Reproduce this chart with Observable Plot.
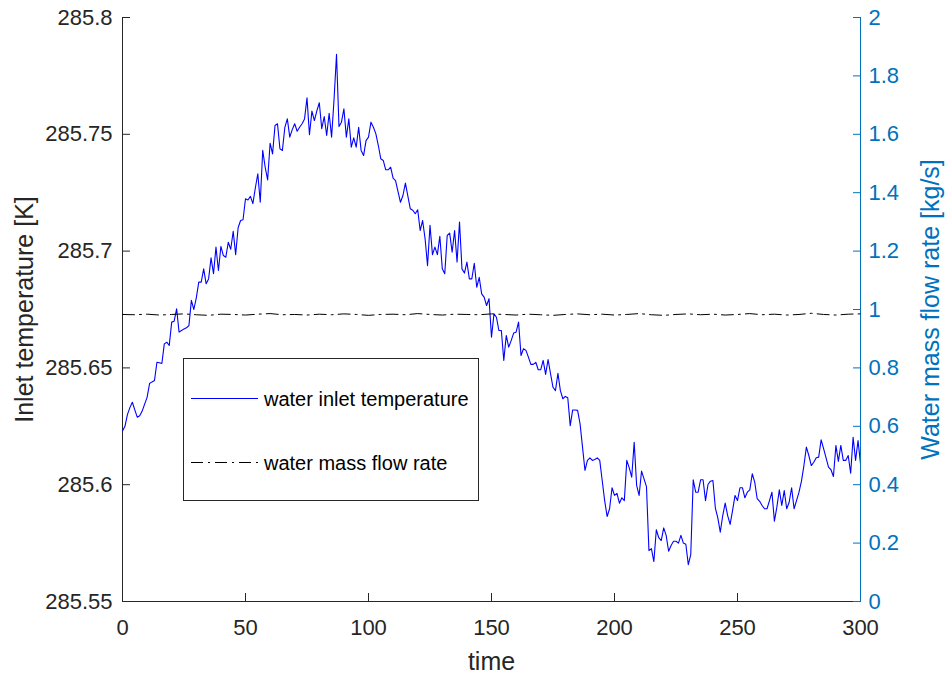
<!DOCTYPE html>
<html>
<head>
<meta charset="utf-8">
<script src="https://cdn.jsdelivr.net/npm/d3@7"></script>
<script src="https://cdn.jsdelivr.net/npm/@observablehq/plot@0.6"></script>
<style>
  html, body { margin: 0; padding: 0; background: #fff; }
  #chart { position: relative; width: 947px; height: 675px; }
  #chart svg { position: absolute; left: 0; top: 0; }
</style>
</head>
<body>
<div id="chart"></div>
<script>
// Water inlet temperature [K], one sample per second, t = 0 … 300
const inletTemperature = [
  285.6230,285.6250,285.6300,285.6330,285.6353,285.6320,285.6289,285.6295,285.6315,285.6345,
  285.6374,285.6433,285.6440,285.6446,285.6524,285.6522,285.6519,285.6603,285.6610,285.6596,
  285.6696,285.6700,285.6753,285.6653,285.6660,285.6667,285.6672,285.6681,285.6789,285.6750,
  285.6800,285.6867,285.6867,285.6924,285.6860,285.6881,285.6971,285.6903,285.7017,285.6917,
  285.7020,285.6981,285.6974,285.7038,285.7008,285.7085,285.6985,285.7100,285.7131,285.7134,
  285.7224,285.7219,285.7234,285.7203,285.7270,285.7331,285.7209,285.7431,285.7359,285.7305,
  285.7462,285.7416,285.7538,285.7545,285.7438,285.7431,285.7530,285.7566,285.7488,285.7520,
  285.7545,285.7513,285.7530,285.7545,285.7566,285.7656,285.7498,285.7599,285.7559,285.7600,
  285.7635,285.7524,285.7576,285.7495,285.7590,285.7488,285.7650,285.7842,285.7533,285.7552,
  285.7609,285.7488,285.7566,285.7445,285.7485,285.7445,285.7530,285.7431,285.7409,285.7473,
  285.7488,285.7552,285.7530,285.7502,285.7452,285.7395,285.7388,285.7348,285.7348,285.7359,
  285.7312,285.7302,285.7255,285.7209,285.7238,285.7291,285.7235,285.7181,285.7175,285.7160,
  285.7177,285.7088,285.7131,285.7053,285.6938,285.7110,285.6985,285.7017,285.6985,285.7063,
  285.6924,285.6903,285.7067,285.7077,285.6995,285.7088,285.6953,285.7124,285.6924,285.6906,
  285.6953,285.6881,285.6881,285.6948,285.6845,285.6888,285.6817,285.6803,285.6767,285.6796,
  285.6631,285.6731,285.6717,285.6660,285.6660,285.6532,285.6639,285.6589,285.6617,285.6649,
  285.6653,285.6696,285.6553,285.6582,285.6575,285.6546,285.6515,285.6515,285.6524,285.6492,
  285.6492,285.6532,285.6472,285.6536,285.6475,285.6417,285.6403,285.6477,285.6403,285.6368,
  285.6378,285.6372,285.6253,285.6320,285.6320,285.6318,285.6261,285.6161,285.6061,285.6104,
  285.6115,285.6104,285.6108,285.6115,285.6104,285.6018,285.5932,285.5864,285.5897,285.5987,
  285.5954,285.5963,285.5921,285.5944,285.5932,285.6104,285.6072,285.6032,285.6182,285.5997,
  285.5954,285.6058,285.6025,285.5992,285.5718,285.5726,285.5671,285.5807,285.5773,285.5761,
  285.5815,285.5783,285.5715,285.5740,285.5758,285.5758,285.5750,285.5783,285.5750,285.5745,
  285.5658,285.5701,285.6021,285.5968,285.5968,285.6021,285.6021,285.5932,285.6001,285.6015,
  285.6018,285.5900,285.5858,285.5797,285.5868,285.5921,285.5868,285.5830,285.5890,285.5954,
  285.5932,285.5987,285.5987,285.5944,285.5968,285.5978,285.6047,285.6011,285.5940,285.5929,
  285.5911,285.5897,285.5897,285.5932,285.5968,285.5844,285.5904,285.5978,285.5911,285.5975,
  285.5897,285.5925,285.5987,285.5897,285.5932,285.5968,285.6015,285.6082,285.6161,285.6125,
  285.6082,285.6096,285.6115,285.6118,285.6192,285.6154,285.6115,285.6075,285.6064,285.6035,
  285.6168,285.6100,285.6168,285.6104,285.6104,285.6125,285.6049,285.6203,285.6104,285.6189,
  285.6090
];

// Water mass flow rate [kg/s], sampled every 5 s
const flowStep = 5;
const massFlowRate = [
  0.983,0.982,0.984,0.981,0.983,0.985,0.982,0.980,0.984,0.983,
  0.981,0.984,0.986,0.982,0.983,0.981,0.984,0.982,0.985,0.983,
  0.980,0.983,0.984,0.982,0.986,0.983,0.981,0.984,0.983,0.982,
  0.985,0.983,0.981,0.984,0.982,0.980,0.983,0.985,0.982,0.984,
  0.981,0.983,0.986,0.982,0.980,0.983,0.985,0.982,0.984,0.981,
  0.983,0.986,0.982,0.984,0.981,0.983,0.987,0.983,0.981,0.984,
  0.985
];

const timeDomain = [0, 300];
const timeTicks = [0, 50, 100, 150, 200, 250, 300];
const tempDomain = [285.55, 285.8];
const tempTicks = [285.55, 285.6, 285.65, 285.7, 285.75, 285.8];
const flowDomain = [0, 2];
const flowTicks = [0, 0.2, 0.4, 0.6, 0.8, 1, 1.2, 1.4, 1.6, 1.8, 2];

const seriesNames = ["water inlet temperature", "water mass flow rate"];

const tempRows = inletTemperature.map((v, i) => ({t: i, v}));
const flowRows = massFlowRate.map((v, i) => ({t: i * flowStep, v}));

const W = 947, H = 675;
const margins = {marginLeft: 122, marginRight: 87, marginTop: 17, marginBottom: 74};
const font = "'Liberation Sans', Arial, Helvetica, sans-serif";
const axisDark = "#262626";
const rightBlue = "#0072BD";
const dashDot = "12,5,2,5";
const tickFont = 22;
const labelFont = 25;

// left axis + temperature trace
const back = Plot.plot({
  width: W, height: H, ...margins,
  style: {fontFamily: font, fontSize: `${tickFont}px`, background: "white", color: axisDark, overflow: "visible"},
  x: {domain: timeDomain},
  y: {domain: tempDomain},
  marks: [
    Plot.ruleX([timeDomain[0]], {stroke: axisDark}),
    Plot.ruleY([tempDomain[0]], {stroke: axisDark}),
    Plot.axisX({ticks: timeTicks, tickSize: -8, tickPadding: 26, tickFormat: d => String(d), label: null}),
    Plot.axisX({ticks: [], label: "time", labelAnchor: "center", labelArrow: "none", labelOffset: 68, fontSize: labelFont}),
    Plot.axisY({ticks: tempTicks, tickSize: -8, tickPadding: 18, tickFormat: d => String(+d.toFixed(2)), label: null}),
    Plot.axisY({ticks: [], label: "Inlet temperature [K]", labelAnchor: "center", labelArrow: "none", labelOffset: 107, fontSize: labelFont}),
    Plot.lineY(tempRows, {x: "t", y: "v", stroke: "#0000ff", strokeWidth: 1.1})
  ]
});

// right axis + flow rate trace
const front = Plot.plot({
  width: W, height: H, ...margins,
  style: {fontFamily: font, fontSize: `${tickFont}px`, background: "transparent", color: rightBlue, overflow: "visible"},
  x: {domain: timeDomain, axis: null},
  y: {domain: flowDomain},
  marks: [
    Plot.ruleX([timeDomain[1]], {stroke: rightBlue}),
    Plot.axisY({anchor: "right", ticks: flowTicks, tickSize: -8, tickPadding: 16, tickFormat: d => String(+d.toFixed(1)), label: null}),
    Plot.axisY({anchor: "right", ticks: [], label: "Water mass flow rate [kg/s]", labelAnchor: "center", labelArrow: "none", labelOffset: 78, fontSize: labelFont}),
    Plot.lineY(flowRows, {x: "t", y: "v", stroke: "black", strokeWidth: 1, strokeDasharray: dashDot})
  ]
});

const chart = document.getElementById("chart");
chart.append(back, front);

// legend box
const lg = d3.select(front).append("g")
  .attr("font-family", font).attr("font-size", 20).attr("fill", "#000")
  .attr("text-anchor", "start");
lg.append("rect").attr("x", 183.5).attr("y", 358.5).attr("width", 295).attr("height", 142)
  .attr("fill", "white").attr("stroke", axisDark).attr("stroke-width", 1);
const entries = [
  {name: seriesNames[0], y: 398.5, stroke: "#0000ff", dash: null},
  {name: seriesNames[1], y: 462.5, stroke: "black", dash: dashDot}
];
for (const e of entries) {
  lg.append("line").attr("x1", 191).attr("x2", 258).attr("y1", e.y).attr("y2", e.y)
    .attr("stroke", e.stroke).attr("stroke-width", 1).attr("stroke-dasharray", e.dash);
  lg.append("text").attr("x", 264).attr("y", e.y).attr("dy", "0.35em")
    .attr("text-anchor", "start").text(e.name);
}
</script>
</body>
</html>
